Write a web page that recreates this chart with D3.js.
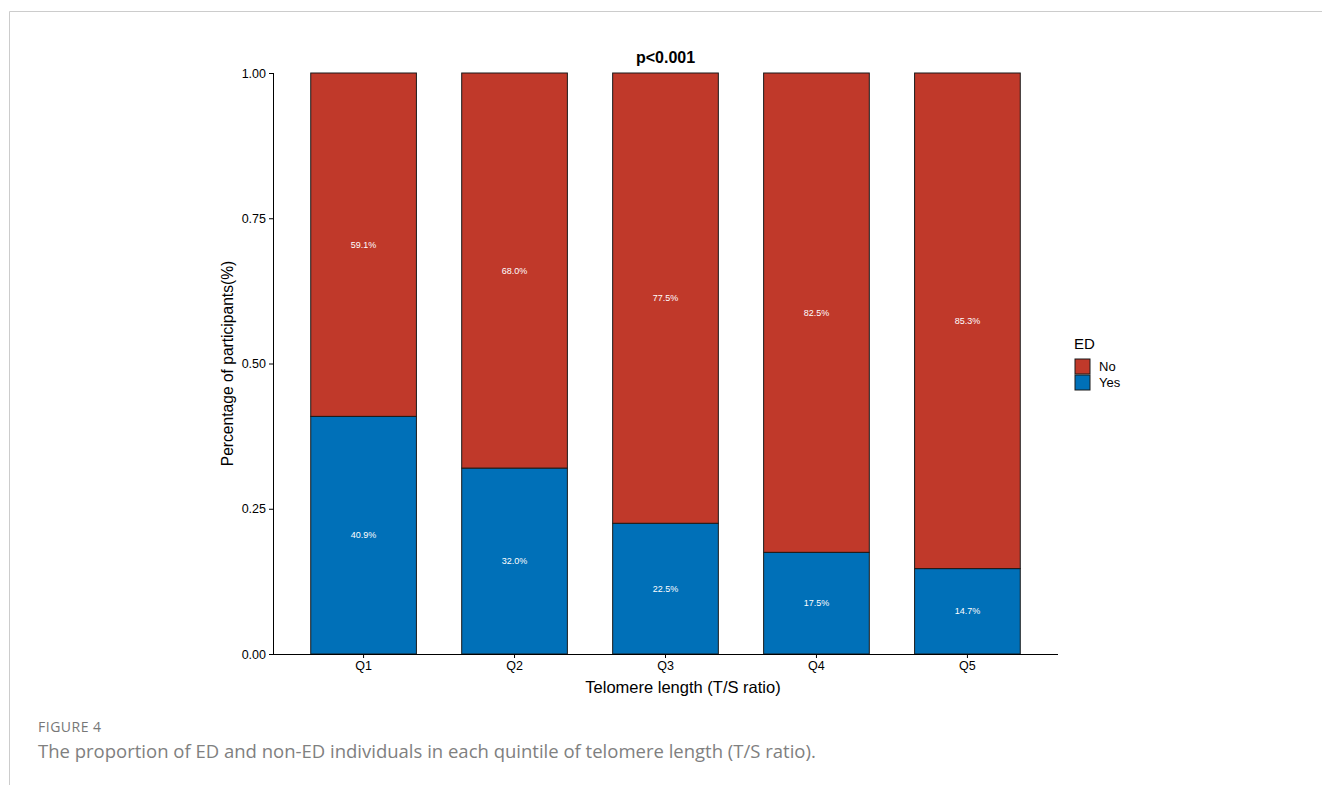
<!DOCTYPE html>
<html>
<head>
<meta charset="utf-8">
<script src="https://cdn.jsdelivr.net/npm/d3@7"></script>
<style>
  html, body { margin: 0; padding: 0; background: #fff; }
  svg { display: block; }
</style>
</head>
<body>
<svg id="fig" width="1322" height="785"></svg>
<script>
// Quintiles of telomere length and share of participants with / without ED
const categories = ["Q1", "Q2", "Q3", "Q4", "Q5"];
const yesPct = [40.9, 32.0, 22.5, 17.5, 14.7];
const noPct = [59.1, 68.0, 77.5, 82.5, 85.3];
const yTicks = [0, 0.25, 0.5, 0.75, 1.0];
const groups = ["No", "Yes"];
const colors = { No: "#C0392A", Yes: "#0070B8" };

const svg = d3.select("#fig");
const font = "'Liberation Sans', Arial, Helvetica, sans-serif";

// Page frame (thin grey rule along top and left)
svg.append("path")
  .attr("d", "M9.5,785 V11.5 H1322")
  .attr("fill", "none")
  .attr("stroke", "#cccccc")
  .attr("stroke-width", 1);

const plot = { left: 273, right: 1058, top: 73, bottom: 654 };

const x = d3.scaleBand()
  .domain(categories)
  .range([plot.left, plot.right])
  .paddingInner(0.3)
  .paddingOuter(0.25);

const y = d3.scaleLinear().domain([0, 1]).range([plot.bottom, plot.top]);

// Stack: Yes at the bottom, No on top
const rows = categories.map((c, i) => ({ cat: c, Yes: yesPct[i] / 100, No: noPct[i] / 100 }));
const stack = d3.stack().keys(["Yes", "No"])(rows);

const g = svg.append("g");
stack.forEach(layer => {
  g.selectAll(null)
    .data(layer)
    .join("rect")
    .attr("x", d => x(d.data.cat))
    .attr("width", x.bandwidth())
    .attr("y", d => y(d[1]))
    .attr("height", d => y(d[0]) - y(d[1]))
    .attr("fill", colors[layer.key])
    .attr("stroke", "#1a1a1a")
    .attr("stroke-width", 1);

  g.selectAll(null)
    .data(layer)
    .join("text")
    .attr("x", d => x(d.data.cat) + x.bandwidth() / 2)
    .attr("y", d => y((d[0] + d[1]) / 2))
    .attr("dy", "0.35em")
    .attr("text-anchor", "middle")
    .attr("font-family", font)
    .attr("font-size", 9)
    .attr("fill", "#ffffff")
    .text(d => (d.data[layer.key] * 100).toFixed(1) + "%");
});

// Axes
const yAxis = d3.axisLeft(y).tickValues(yTicks).tickFormat(d3.format(".2f")).tickSize(4).tickPadding(3);
const xAxis = d3.axisBottom(x).tickSize(4).tickPadding(3);

const ya = svg.append("g").attr("transform", `translate(${plot.left},0)`).call(yAxis);
const xa = svg.append("g").attr("transform", `translate(0,${plot.bottom})`).call(xAxis);
[ya, xa].forEach(a => {
  a.select(".domain").attr("stroke", "#000").attr("stroke-width", 1);
  a.selectAll(".tick line").attr("stroke", "#000");
  a.selectAll(".tick text").attr("font-family", font).attr("font-size", 12.5).attr("fill", "#000");
});
xa.select(".domain").attr("d", `M${plot.left},0.5H${plot.right}`);
ya.select(".domain").attr("d", `M0.5,${plot.bottom}V${plot.top}`);

// Titles
svg.append("text")
  .attr("x", (plot.left + plot.right) / 2)
  .attr("y", 63)
  .attr("text-anchor", "middle")
  .attr("font-family", font)
  .attr("font-size", 16)
  .attr("font-weight", "bold")
  .text("p<0.001");

svg.append("text")
  .attr("x", 683)
  .attr("y", 693)
  .attr("text-anchor", "middle")
  .attr("font-family", font)
  .attr("font-size", 16.5)
  .text("Telomere length (T/S ratio)");

svg.append("text")
  .attr("transform", `translate(233,${(plot.top + plot.bottom) / 2}) rotate(-90)`)
  .attr("text-anchor", "middle")
  .attr("font-family", font)
  .attr("font-size", 15.6)
  .text("Percentage of participants(%)");

// Legend
const lg = svg.append("g").attr("transform", "translate(1074,0)");
lg.append("text")
  .attr("x", 0).attr("y", 349)
  .attr("font-family", font).attr("font-size", 15)
  .text("ED");
groups.forEach((k, i) => {
  const yy = 359 + i * 16;
  lg.append("rect")
    .attr("x", 1).attr("y", yy)
    .attr("width", 15).attr("height", 15)
    .attr("fill", colors[k])
    .attr("stroke", "#1a1a1a").attr("stroke-width", 1);
  lg.append("text")
    .attr("x", 25).attr("y", yy + 7.5).attr("dy", "0.35em")
    .attr("font-family", font).attr("font-size", 13)
    .text(k);
});

// Caption
svg.append("text")
  .attr("x", 38).attr("y", 732)
  .attr("font-family", "'Open Sans', Lato, sans-serif")
  .attr("font-size", 14)
  .attr("letter-spacing", 0.5)
  .attr("fill", "#777")
  .text("FIGURE 4");
svg.append("text")
  .attr("x", 38).attr("y", 758)
  .attr("font-family", "'Open Sans', Lato, sans-serif")
  .attr("font-size", 18.5)
  .attr("fill", "#808080")
  .text("The proportion of ED and non-ED individuals in each quintile of telomere length (T/S ratio).");
</script>
</body>
</html>
